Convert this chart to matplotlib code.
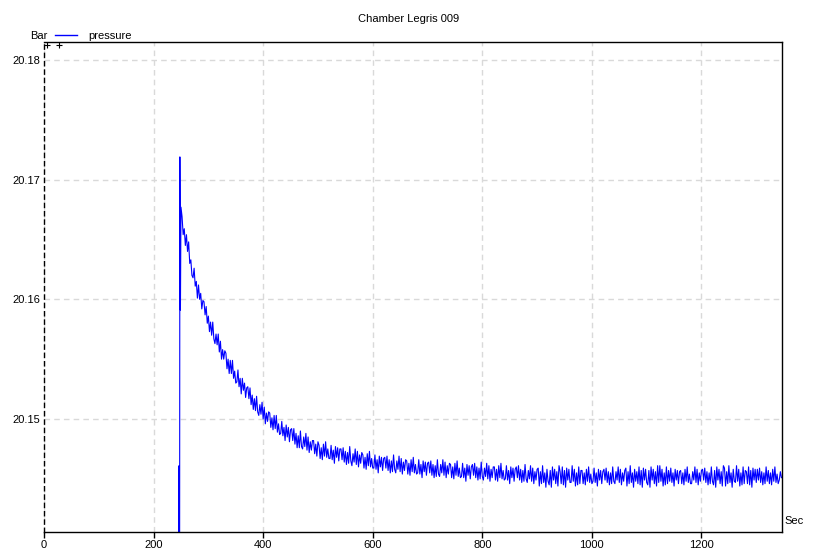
import numpy as np
from matplotlib import pyplot as plt

plt.rcParams['font.family'] = ['Liberation Sans', 'DejaVu Sans']

# Pressure spike at the valve opening (Sec, Bar); low values sit below the plot
spike_t = [0, 245, 246.5, 247, 248, 249, 250]
spike_p = [20.10, 20.10, 20.1461, 20.10, 20.1719, 20.1591, 20.1677]

decay_fast = [
    20.1669, 20.1654, 20.1659, 20.1645, 20.1654, 20.1640, 20.1648, 20.1630, 20.1633, 20.1620,
    20.1618, 20.1626, 20.1611, 20.1615, 20.1601, 20.1612, 20.1600, 20.1605, 20.1592, 20.1599,
    20.1598, 20.1587, 20.1594, 20.1580, 20.1586, 20.1573, 20.1581, 20.1570, 20.1581, 20.1567,
    20.1563, 20.1571, 20.1562, 20.1571, 20.1556, 20.1565, 20.1550, 20.1558, 20.1550, 20.1557,
    20.1555, 20.1542, 20.1550, 20.1538, 20.1549, 20.1538, 20.1549, 20.1534, 20.1540, 20.1530,
    20.1531, 20.1541, 20.1527, 20.1534, 20.1521, 20.1534, 20.1524, 20.1530, 20.1518, 20.1526,
    20.1527, 20.1517, 20.1526, 20.1512, 20.1520, 20.1508, 20.1517, 20.1507, 20.1519, 20.1506,
    20.1503, 20.1512, 20.1504, 20.1514, 20.1500, 20.1510, 20.1496, 20.1505, 20.1498, 20.1506,
    20.1505, 20.1493, 20.1501, 20.1491, 20.1503, 20.1492, 20.1503, 20.1489, 20.1496, 20.1487,
    20.1488, 20.1498, 20.1486, 20.1493, 20.1482, 20.1495, 20.1485, 20.1493, 20.1481, 20.1491,
    20.1492, 20.1482, 20.1492, 20.1479, 20.1488, 20.1476, 20.1486, 20.1476, 20.1490, 20.1477,
    20.1475, 20.1485, 20.1477, 20.1488, 20.1474, 20.1485, 20.1472, 20.1481, 20.1474, 20.1482,
    20.1482, 20.1471, 20.1479, 20.1469, 20.1481,
]
decay_slow = [
    20.1478, 20.1467, 20.1476, 20.1466, 20.1479, 20.1469, 20.1481, 20.1468, 20.1475, 20.1467,
    20.1467, 20.1478, 20.1466, 20.1474, 20.1463, 20.1477, 20.1468, 20.1476, 20.1465, 20.1475,
    20.1475, 20.1466, 20.1476, 20.1464, 20.1473, 20.1462, 20.1472, 20.1463, 20.1477, 20.1465,
    20.1461, 20.1471, 20.1464, 20.1475, 20.1462, 20.1473, 20.1460, 20.1470, 20.1463, 20.1472,
    20.1470, 20.1459, 20.1468, 20.1458, 20.1471, 20.1461, 20.1473, 20.1460, 20.1467, 20.1459,
    20.1459, 20.1470, 20.1458, 20.1466, 20.1455, 20.1469, 20.1460, 20.1468, 20.1457, 20.1467,
    20.1468, 20.1459, 20.1469, 20.1457, 20.1466, 20.1455, 20.1465, 20.1456, 20.1470, 20.1458,
    20.1455, 20.1465, 20.1458, 20.1469, 20.1456, 20.1467, 20.1454, 20.1464, 20.1457, 20.1466,
    20.1465, 20.1454, 20.1463, 20.1453, 20.1466, 20.1456, 20.1468, 20.1455, 20.1462, 20.1454,
    20.1455, 20.1466, 20.1454, 20.1462, 20.1451, 20.1465, 20.1456, 20.1464, 20.1453, 20.1463,
    20.1464, 20.1455, 20.1465, 20.1453, 20.1462, 20.1451, 20.1461, 20.1452, 20.1466, 20.1454,
    20.1452, 20.1462, 20.1455, 20.1466, 20.1453, 20.1464, 20.1451, 20.1461, 20.1454, 20.1463,
    20.1462, 20.1451, 20.1460, 20.1450, 20.1463, 20.1453, 20.1465, 20.1452, 20.1459, 20.1451,
    20.1452, 20.1463, 20.1451, 20.1459, 20.1448, 20.1462, 20.1453, 20.1461, 20.1450, 20.1460,
    20.1462, 20.1453, 20.1463, 20.1451, 20.1460, 20.1449, 20.1459, 20.1450, 20.1464, 20.1452,
    20.1449, 20.1459, 20.1452, 20.1463, 20.1450, 20.1461, 20.1448, 20.1458, 20.1451, 20.1460,
    20.1460, 20.1449, 20.1458, 20.1448, 20.1461, 20.1451, 20.1463, 20.1450, 20.1457, 20.1449,
    20.1450, 20.1461, 20.1449, 20.1457, 20.1446, 20.1460, 20.1451, 20.1459, 20.1448, 20.1458,
    20.1460, 20.1451, 20.1461, 20.1449, 20.1458, 20.1447, 20.1457, 20.1448, 20.1462, 20.1450,
    20.1447, 20.1457, 20.1450, 20.1461, 20.1448, 20.1459, 20.1446, 20.1456, 20.1449, 20.1458,
]
plateau = [
    20.1459, 20.1444, 20.1456, 20.1446, 20.1461, 20.1447, 20.1455, 20.1443, 20.1458, 20.1448,
    20.1445, 20.1457, 20.1443, 20.1460, 20.1449, 20.1458, 20.1446, 20.1456, 20.1444, 20.1461,
    20.1456, 20.1446, 20.1460, 20.1445, 20.1457, 20.1443, 20.1459, 20.1449, 20.1458, 20.1447,
    20.1447, 20.1461, 20.1448, 20.1458, 20.1444, 20.1455, 20.1445, 20.1460, 20.1446, 20.1457,
    20.1457, 20.1446, 20.1455, 20.1445, 20.1458, 20.1448, 20.1460, 20.1447, 20.1454, 20.1446,
    20.1448, 20.1459, 20.1447, 20.1455, 20.1444, 20.1458, 20.1449, 20.1457, 20.1446, 20.1456,
    20.1458, 20.1449, 20.1459, 20.1447, 20.1456, 20.1445, 20.1455, 20.1446, 20.1460, 20.1448,
    20.1446, 20.1456, 20.1449, 20.1460, 20.1447, 20.1458, 20.1445, 20.1455, 20.1448, 20.1457,
    20.1459, 20.1444, 20.1456, 20.1446, 20.1461, 20.1447, 20.1455, 20.1443, 20.1458, 20.1448,
    20.1456, 20.1446, 20.1460, 20.1445, 20.1457, 20.1443, 20.1459, 20.1449, 20.1458, 20.1447,
    20.1445, 20.1457, 20.1443, 20.1460, 20.1449, 20.1458, 20.1446, 20.1456, 20.1444, 20.1461,
    20.1447, 20.1461, 20.1448, 20.1458, 20.1444, 20.1455, 20.1445, 20.1460, 20.1446, 20.1457,
    20.1448, 20.1459, 20.1447, 20.1455, 20.1444, 20.1458, 20.1449, 20.1457, 20.1446, 20.1456,
    20.1457, 20.1446, 20.1455, 20.1445, 20.1458, 20.1448, 20.1460, 20.1447, 20.1454, 20.1446,
    20.1446, 20.1456, 20.1449, 20.1460, 20.1447, 20.1458, 20.1445, 20.1455, 20.1448, 20.1457,
    20.1458, 20.1449, 20.1459, 20.1447, 20.1456, 20.1445, 20.1455, 20.1446, 20.1460, 20.1448,
    20.1445, 20.1457, 20.1443, 20.1460, 20.1449, 20.1458, 20.1446, 20.1456, 20.1444, 20.1461,
    20.1459, 20.1444, 20.1456, 20.1446, 20.1461, 20.1447, 20.1455, 20.1443, 20.1458, 20.1448,
    20.1447, 20.1461, 20.1448, 20.1458, 20.1444, 20.1455, 20.1445, 20.1460, 20.1446, 20.1457,
    20.1456, 20.1446, 20.1460, 20.1445, 20.1457, 20.1443, 20.1459, 20.1449, 20.1458, 20.1447,
    20.1458, 20.1449, 20.1459, 20.1447, 20.1456, 20.1445, 20.1455, 20.1446, 20.1460, 20.1448,
    20.1457, 20.1446, 20.1455, 20.1445, 20.1458, 20.1448, 20.1460, 20.1447, 20.1454, 20.1446,
    20.1449, 20.1456, 20.1451,
]

trace_p = decay_fast + decay_slow + plateau
trace_t = 252 + 2 * np.arange(len(trace_p))

sec = np.concatenate([spike_t, trace_t])
pressure = np.concatenate([spike_p, trace_p])

x_ticks = [0, 200, 400, 600, 800, 1000, 1200]
y_ticks = [20.15, 20.16, 20.17, 20.18]

fig = plt.figure(figsize=(8.19, 5.60), dpi=100)
ax = fig.add_axes([44 / 819, 28 / 560, 738 / 819, 490 / 560])

ax.plot(sec, pressure, color='#0000ff', lw=0.8)

ax.set_xlim(0, 1347)
ax.set_ylim(20.14056, 20.18150)
ax.set_xticks(x_ticks)
ax.set_yticks(y_ticks)
ax.set_yticklabels(['%.2f' % v for v in y_ticks])
ax.tick_params(axis='x', length=4, width=1, labelsize=8, pad=2)
ax.tick_params(axis='y', length=0, labelsize=8, pad=3)
ax.grid(color='#d9d9d9', linestyle=(0, (4, 3)), linewidth=1)

ax.spines['left'].set_linestyle((0, (3, 3)))
for s in ax.spines.values():
    s.set_linewidth(1)

# corner markers
ax.plot([0.004, 0.0203], [0.994, 0.994], '+', color='black', ms=5, mew=0.8,
        transform=ax.transAxes, clip_on=False)

fig.text(409 / 819, 1 - 19 / 560, 'Chamber Legris 009', ha='center', va='center', fontsize=8)
fig.text(30 / 819, 1 - 36 / 560, 'Bar', ha='left', va='center', fontsize=8)
fig.add_artist(plt.Line2D([55 / 819, 77 / 819], [1 - 35 / 560, 1 - 35 / 560],
                          color='#0000ff', lw=1, transform=fig.transFigure))
fig.text(88 / 819, 1 - 36 / 560, 'pressure', ha='left', va='center', fontsize=8)
fig.text(784 / 819, 1 - 521 / 560, 'Sec', ha='left', va='center', fontsize=8)

plt.savefig('out.png', dpi=100)
